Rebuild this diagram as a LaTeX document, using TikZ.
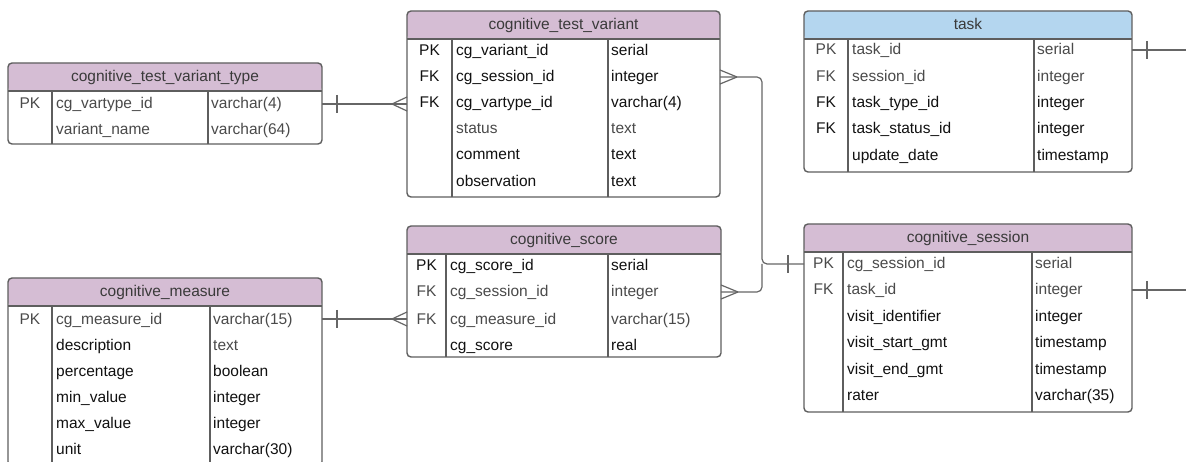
\documentclass[tikz,border=0pt]{standalone}
\usepackage{fontspec}
\setmainfont{Liberation Sans}
\usetikzlibrary{calc}
\definecolor{hpurple}{HTML}{D5BDD4}
\definecolor{hblue}{HTML}{B4D6EF}
\definecolor{bordc}{HTML}{5E5E5E}
\definecolor{connc}{HTML}{666666}
\definecolor{gtxt}{HTML}{4A4A4A}
\definecolor{btxt}{HTML}{111111}
\definecolor{htxt}{HTML}{3A3A3A}
\tikzset{
  tbl/.style={draw=bordc, line width=1.4pt, rounded corners=4pt, inner sep=0pt, outer sep=0pt, anchor=north west, fill=white},
  cell/.style={inner sep=0pt, text height=12pt, text depth=2pt, font=\fontsize{15.5}{18}\selectfont},
  conn/.style={draw=connc, line width=1.2pt},
  rule/.style={draw=bordc, line width=1.4pt}
}
\newcommand{\ertable}[9]{%
  \node[tbl, minimum width={#3-#2}, minimum height={#5-#4},
    path picture={\fill[#8] (path picture bounding box.north west) rectangle ([yshift=-28pt]path picture bounding box.north east);}] (#1) at (#2,#4) {};
  \node[cell, text=htxt] (#1-h) at ({(#2+#3)/2},{#4+14}) {#9};
  \draw[rule] (#2,{#4+28}) -- (#3,{#4+28});
  \draw[rule] (#6,{#4+28}) -- (#6,#5);
  \draw[rule] (#7,{#4+28}) -- (#7,#5);
  \def\tn{#1}\def\xa{#2}\def\xb{#6}\def\xc{#7}%
}
\newcommand{\erow}[7]{%
  \node[cell, text=#6] (\tn-k#1) at ({(\xa+\xb)/2},#2) {#3};
  \node[cell, text=#6, anchor=west] (\tn-n#1) at ({\xb+4},#2) {#4};
  \node[cell, text=#7, anchor=west] (\tn-t#1) at ({\xc+3},#2) {#5};
}
\newcommand{\onetick}[2]{\draw[conn] ($(#1)+(#2,-9)$) -- ($(#1)+(#2,9)$);}
\newcommand{\crowfoot}[2]{\draw[conn] ($(#1)+(#2,0)$) -- ($(#1)+(0,-7)$) ($(#1)+(#2,0)$) -- ($(#1)+(0,7)$);}
\begin{document}
\begin{tikzpicture}[x=1pt,y=-1pt]
\useasboundingbox (0,0) rectangle (1186,462);
\fill[white] (0,0) rectangle (1186,462);

% cognitive_test_variant_type
\ertable{vt}{8}{322}{63}{144}{52}{208}{hpurple}{cognitive\_test\_variant\_type}
\erow{1}{104}{PK}{cg\_vartype\_id}{varchar(4)}{gtxt}{gtxt}
\erow{2}{130}{}{variant\_name}{varchar(64)}{gtxt}{gtxt}

% cognitive_test_variant
\ertable{tv}{407}{720}{11}{197}{452}{608}{hpurple}{cognitive\_test\_variant}
\erow{1}{51}{PK}{cg\_variant\_id}{serial}{btxt}{btxt}
\erow{2}{77}{FK}{cg\_session\_id}{integer}{btxt}{btxt}
\erow{3}{103}{FK}{cg\_vartype\_id}{varchar(4)}{btxt}{btxt}
\erow{4}{129}{}{status}{text}{gtxt}{gtxt}
\erow{5}{155}{}{comment}{text}{btxt}{btxt}
\erow{6}{182}{}{observation}{text}{btxt}{btxt}

% task
\ertable{tk}{804}{1132}{11}{172}{848}{1034}{hblue}{task}
\erow{1}{50}{PK}{task\_id}{serial}{gtxt}{gtxt}
\erow{2}{77}{FK}{session\_id}{integer}{gtxt}{gtxt}
\erow{3}{103}{FK}{task\_type\_id}{integer}{btxt}{btxt}
\erow{4}{129}{FK}{task\_status\_id}{integer}{btxt}{btxt}
\erow{5}{156}{}{update\_date}{timestamp}{btxt}{btxt}

% cognitive_measure
\ertable{cm}{8}{322}{278}{466}{52}{210}{hpurple}{cognitive\_measure}
\erow{1}{319}{PK}{cg\_measure\_id}{varchar(15)}{gtxt}{gtxt}
\erow{2}{345}{}{description}{text}{btxt}{gtxt}
\erow{3}{371}{}{percentage}{boolean}{btxt}{btxt}
\erow{4}{397}{}{min\_value}{integer}{btxt}{btxt}
\erow{5}{423}{}{max\_value}{integer}{btxt}{btxt}
\erow{6}{449}{}{unit}{varchar(30)}{btxt}{btxt}

% cognitive_score
\ertable{sc}{407}{721}{226}{357}{446}{608}{hpurple}{cognitive\_score}
\erow{1}{266}{PK}{cg\_score\_id}{serial}{btxt}{btxt}
\erow{2}{292}{FK}{cg\_session\_id}{integer}{gtxt}{gtxt}
\erow{3}{319}{FK}{cg\_measure\_id}{varchar(15)}{gtxt}{gtxt}
\erow{4}{345}{}{cg\_score}{real}{btxt}{btxt}

% cognitive_session
\ertable{cs}{804}{1132}{224}{412}{843}{1032}{hpurple}{cognitive\_session}
\erow{1}{264}{PK}{cg\_session\_id}{serial}{gtxt}{gtxt}
\erow{2}{290}{FK}{task\_id}{integer}{gtxt}{gtxt}
\erow{3}{317}{}{visit\_identifier}{integer}{btxt}{btxt}
\erow{4}{343}{}{visit\_start\_gmt}{timestamp}{btxt}{btxt}
\erow{5}{369}{}{visit\_end\_gmt}{timestamp}{btxt}{btxt}
\erow{6}{395}{}{rater}{varchar(35)}{btxt}{btxt}

% connectors
\coordinate (jx) at (762,0);
\coordinate (e1) at (1186,50);
\coordinate (e2) at (1186,290);

% type -> variant
\draw[conn] (vt.east |- vt-n1) -- (tv.west |- vt-n1);
\onetick{vt.east |- vt-n1}{15}
\crowfoot{tv.west |- vt-n1}{-15}

% measure -> score
\draw[conn] (cm.east |- cm-n1) -- (sc.west |- cm-n1);
\onetick{cm.east |- cm-n1}{15}
\crowfoot{sc.west |- cm-n1}{-15}

% session -> variant, score
\draw[conn, rounded corners=5pt] (tv.east |- tv-n2) -| (jx |- cs-n1) -- (cs.west |- cs-n1);
\draw[conn, rounded corners=5pt] (sc.east |- sc-n2) -| (jx |- cs-n1);
\onetick{cs.west |- cs-n1}{-16}
\crowfoot{tv.east |- tv-n2}{17}
\crowfoot{sc.east |- sc-n2}{17}

% task / session to the right
\draw[conn] (tk.east |- tk-n1) -- (e1);
\onetick{tk.east |- tk-n1}{15}
\draw[conn] (cs.east |- cs-n2) -- (e2);
\onetick{cs.east |- cs-n2}{15}
\end{tikzpicture}
\end{document}
